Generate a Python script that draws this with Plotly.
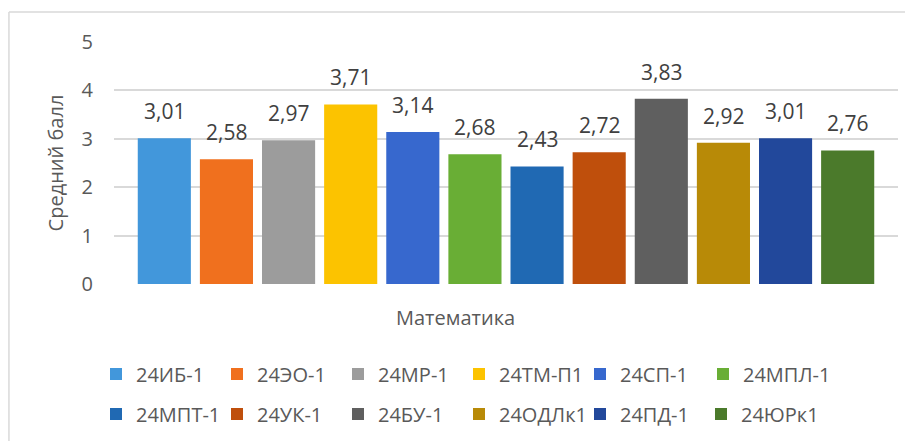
import plotly.graph_objects as go

# data
groups = ["24ИБ-1", "24ЭО-1", "24МР-1", "24ТМ-П1", "24СП-1", "24МПЛ-1",
          "24МПТ-1", "24УК-1", "24БУ-1", "24ОДЛк1", "24ПД-1", "24ЮРк1"]
scores = [3.01, 2.58, 2.97, 3.71, 3.14, 2.68, 2.43, 2.72, 3.83, 2.92, 3.01, 2.76]
colours = ["#4297DB", "#F0701E", "#9C9C9C", "#FCC300", "#3768CE", "#69AE35",
           "#2069B3", "#BF4F0C", "#5F5F5F", "#B88A07", "#22489B", "#4B7A2B"]
subject = "Математика"
y_title = "Средний балл"

font_name = "Open Sans"
txt_colour = "#595959"

# page body has an 8px margin, so the figure is 8px smaller than the window
W, H = 905, 433


def legend_for(i):
    # two rows of six; the long "24МПЛ-1" gets its own legend so it isn't clipped
    if i == 5:
        return "legend3"
    return "legend" if i < 6 else "legend2"


fig = go.Figure()

for i, (name, val, col) in enumerate(zip(groups, scores, colours)):
    fig.add_trace(go.Bar(
        x=[i], y=[val], name=name, width=0.855,
        marker=dict(color=col, line=dict(width=0)),
        legend=legend_for(i),
        hovertemplate=name + ": %{y}<extra></extra>"))
    # value label above each bar, decimal comma as in the original
    fig.add_annotation(
        x=i, y=val, text=f"{val:.2f}".replace(".", ","),
        showarrow=False, yanchor="bottom", yshift=11,
        font=dict(family=font_name, size=21, color="#404040"))

# category name under the plot
fig.add_annotation(
    xref="paper", yref="paper", x=0.436, y=-0.14,
    text=subject, showarrow=False, yanchor="middle",
    font=dict(family=font_name, size=20, color=txt_colour))

# chart frame (top and left edges visible)
fig.add_shape(type="line", xref="paper", yref="paper",
              x0=-0.134, x1=1.03, y0=1.124, y1=1.124,
              line=dict(color="#D9D9D9", width=1.5))
fig.add_shape(type="line", xref="paper", yref="paper",
              x0=-0.134, x1=-0.134, y0=1.124, y1=-0.7,
              line=dict(color="#D9D9D9", width=1.5))

leg = dict(orientation="h", xref="container", yref="container",
           xanchor="left", yanchor="middle", x=88 / W,
           font=dict(family=font_name, size=20, color=txt_colour),
           entrywidth=76, itemwidth=30, bgcolor="rgba(0,0,0,0)")
leg_last = dict(leg, entrywidth=None, x=695 / W)

fig.update_layout(
    width=W, height=H,
    margin=dict(l=106, r=15, t=34, b=157, autoexpand=False),
    plot_bgcolor="white", paper_bgcolor="white",
    barmode="overlay",
    font=dict(family=font_name, color=txt_colour),
    xaxis=dict(range=[-0.81, 11.81], showticklabels=False, showgrid=False,
               zeroline=False, ticks=""),
    yaxis=dict(range=[0, 5], dtick=1, gridcolor="#D9D9D9", gridwidth=1.5,
               zeroline=False, showline=False, ticklabelstandoff=20,
               tickfont=dict(family=font_name, size=20, color=txt_colour),
               title=dict(text=y_title, standoff=12,
                          font=dict(family=font_name, size=20, color=txt_colour))),
    legend=dict(leg, y=1 - 366 / H),
    legend2=dict(leg, y=1 - 406 / H),
    legend3=dict(leg_last, y=1 - 366 / H),
    showlegend=True,
)

fig.write_html("out.html")
